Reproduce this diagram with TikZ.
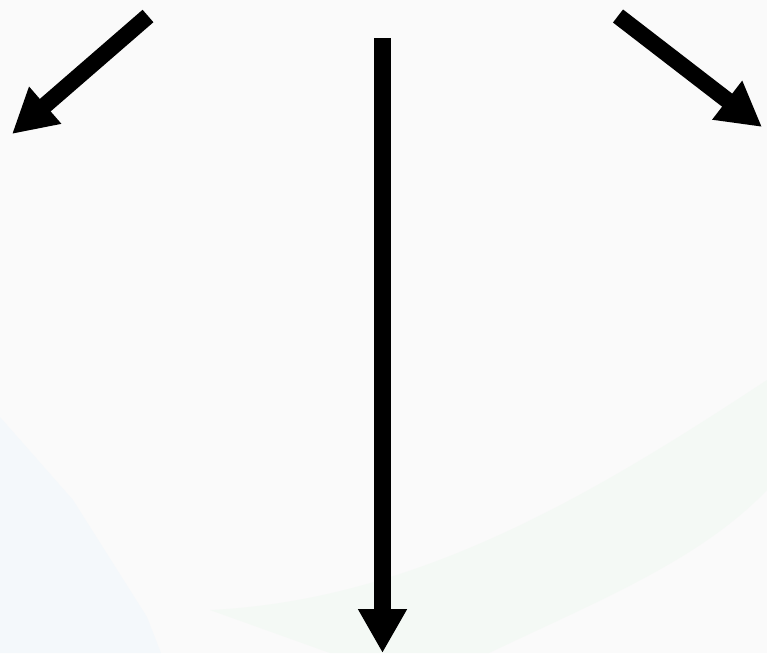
\documentclass[tikz,border=0pt]{standalone}
\usetikzlibrary{arrows.meta}
\definecolor{bgc}{HTML}{FAFAFA}
\definecolor{faintblue}{HTML}{F4F8FB}
\definecolor{faintgreen}{HTML}{F4F9F5}
\tikzset{
  bigarrow/.style={line width=16.5pt, line cap=butt, -{Triangle[length=44pt,width=46pt]}},
}
\begin{document}
\begin{tikzpicture}[x=1pt,y=-1pt]
  \fill[bgc] (0,0) rectangle (767,653);
  \useasboundingbox (0,0) rectangle (767,653);
  % faint background shapes
  \fill[faintblue] (0,417) -- (73,500) -- (147,617) -- (161,653) -- (0,653) -- cycle;
  \fill[faintgreen] (767,380) .. controls (600,490) and (420,600) .. (210,610)
     -- (330,653) -- (489,653) .. controls (600,600) and (700,560) .. (767,490) -- cycle;
  % arrow end points
  \coordinate (ls) at (148,16);
  \coordinate (le) at (12,134);
  \coordinate (cs) at (382.5,38);
  \coordinate (ce) at (382.5,653);
  \coordinate (rs) at (618,16);
  \coordinate (re) at (762,127);
  \draw[bigarrow] (ls) -- (le);
  \draw[bigarrow] (cs) -- (ce);
  \draw[bigarrow] (rs) -- (re);
\end{tikzpicture}
\end{document}
